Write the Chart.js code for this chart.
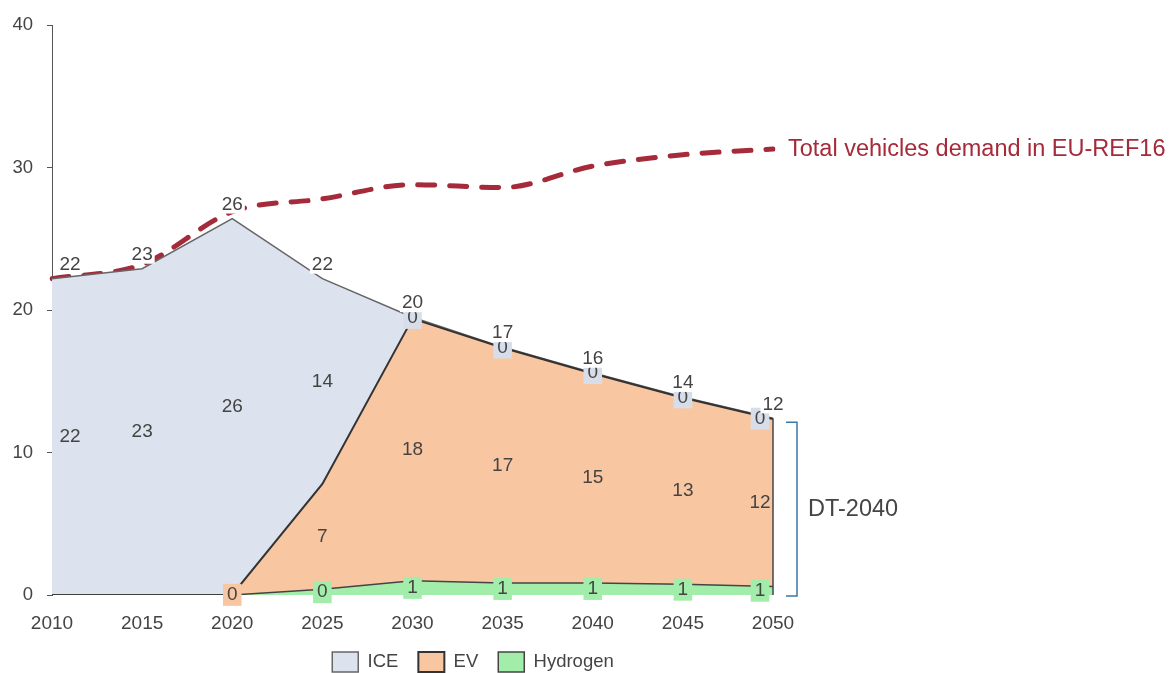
<!DOCTYPE html>
<html>
<head>
<meta charset="utf-8">
<script src="https://cdn.jsdelivr.net/npm/chart.js@4.4.1/dist/chart.umd.min.js"></script>
<style>
  html, body { margin: 0; padding: 0; overflow: hidden; background: #fff; }
  #wrap { width: 1176px; height: 682px; }
</style>
</head>
<body>
<div id="wrap"><canvas id="myChart"></canvas></div>
<script>
// data (million vehicles)
const years = ['2010', '2015', '2020', '2025', '2030', '2035', '2040', '2045', '2050'];
const ice = [22.2, 22.9, 26.4, 14.4, 0.1, 0.05, 0.05, 0.05, 0.05];
const ev = [0, 0, 0.02, 7.4, 18.4, 16.5, 14.7, 13.1, 11.75];
const hydrogen = [0, 0, 0, 0.4, 1.0, 0.85, 0.85, 0.75, 0.6];
const totalDemand = [22.2, 23.2, 26.9, 27.8, 28.8, 28.6, 30.1, 30.9, 31.3];
const yTicks = [0, 10, 20, 30, 40];

const FONT = '"Liberation Sans", Arial, sans-serif';
const TXT = '#444';

const labelPlugin = {
  id: 'areaLabels',
  afterDatasetsDraw(chart) {
    const ctx = chart.ctx;
    const xs = chart.scales.x, ys = chart.scales.y;
    const stacked = [0, 1, 2];
    const last = years.length - 1;
    ctx.save();
    ctx.textAlign = 'center';
    ctx.textBaseline = 'middle';

    // right edge of the stacked area
    let lastTop = 0;
    stacked.forEach(d => lastTop += chart.data.datasets[d].data[last]);
    const xr = xs.getPixelForValue(last);
    ctx.strokeStyle = '#444';
    ctx.lineWidth = 1.5;
    ctx.beginPath();
    ctx.moveTo(xr, ys.getPixelForValue(0));
    ctx.lineTo(xr, ys.getPixelForValue(lastTop));
    ctx.stroke();

    ctx.font = '19px ' + FONT;
    years.forEach((yr, i) => {
      const px = xs.getPixelForValue(i);
      const lx = i === 0 ? px + 18 : (i === last ? px - 13 : px);
      let base = 0;
      stacked.forEach(d => {
        const ds = chart.data.datasets[d];
        const v = ds.data[i];
        if (v > 0) {
          const mid = ys.getPixelForValue(base + v / 2);
          const txt = String(Math.round(v));
          const hpx = ys.getPixelForValue(0) - ys.getPixelForValue(v);
          if (hpx < 18) {
            const w = ctx.measureText(txt).width + 8;
            ctx.fillStyle = ds.labelBox;
            ctx.fillRect(lx - w / 2, mid - 11, w, 22);
          }
          ctx.fillStyle = TXT;
          ctx.fillText(txt, lx, mid);
        }
        base += v;
      });
      // total on top
      const tx = i === 0 ? px + 18 : px;
      const ty = ys.getPixelForValue(base) - 14;
      const txt = String(Math.round(base));
      const w = ctx.measureText(txt).width + 4;
      ctx.fillStyle = '#fff';
      ctx.fillRect(tx - w / 2, ty - 9, w, 18);
      ctx.fillStyle = TXT;
      ctx.fillText(txt, tx, ty);
    });

    // label of the demand line
    const td = chart.data.datasets[3].data;
    ctx.textAlign = 'left';
    ctx.font = '23.5px ' + FONT;
    ctx.fillStyle = '#a52a3a';
    ctx.fillText('Total vehicles demand in EU-REF16', xr + 15, ys.getPixelForValue(td[last]));

    // bracket
    const bTop = ys.getPixelForValue(lastTop) + 4;
    const bBot = ys.getPixelForValue(0) + 1;
    ctx.strokeStyle = '#3a78a8';
    ctx.lineWidth = 1.5;
    ctx.beginPath();
    ctx.moveTo(xr + 13, bTop);
    ctx.lineTo(xr + 24, bTop);
    ctx.lineTo(xr + 24, bBot);
    ctx.lineTo(xr + 13, bBot);
    ctx.stroke();
    ctx.fillStyle = TXT;
    ctx.fillText('DT-2040', xr + 35, (bTop + bBot) / 2);
    ctx.restore();
  }
};

const chart = new Chart(document.getElementById('myChart'), {
  type: 'line',
  data: {
    labels: years,
    datasets: [
      {
        label: 'Hydrogen', data: hydrogen, stack: 'main', fill: 'origin',
        backgroundColor: '#a3edab', labelBox: '#a3edab', borderColor: '#444', borderWidth: 1.5,
        pointRadius: 0, tension: 0
      },
      {
        label: 'EV', data: ev, stack: 'main', fill: '-1',
        backgroundColor: '#f9c6a2', labelBox: '#f9c6a2', borderColor: '#333', borderWidth: 2,
        pointRadius: 0, tension: 0
      },
      {
        label: 'ICE', data: ice, stack: 'main', fill: '-1',
        backgroundColor: '#dde3ee', labelBox: '#d7dee9', borderColor: '#666', borderWidth: 1.5,
        pointRadius: 0, tension: 0
      },
      {
        label: 'Total vehicles demand in EU-REF16', data: totalDemand, stack: 'total', fill: false,
        borderColor: '#a52a3a', borderWidth: 5, borderDash: [17, 15], borderCapStyle: 'round',
        pointRadius: 0, cubicInterpolationMode: 'monotone'
      }
    ]
  },
  options: {
    responsive: true,
    maintainAspectRatio: false,
    animation: false,
    layout: { padding: { left: 0, right: 230, top: 22, bottom: 0 } },
    scales: {
      x: {
        offset: false,
        grid: { display: false, drawTicks: false },
        border: { display: false },
        ticks: { color: TXT, font: { size: 19, family: FONT }, padding: 17, maxRotation: 0 },
        afterFit: s => { s.height = 37; }
      },
      y: {
        stacked: true,
        min: 0, max: 40,
        afterBuildTicks: s => { s.ticks = yTicks.map(v => ({ value: v })); },
        grid: { drawOnChartArea: false, drawTicks: true, tickLength: 5, color: '#555' },
        border: { display: true, color: '#555', width: 1 },
        ticks: { color: TXT, font: { size: 18.5, family: FONT }, padding: 14 },
        afterFit: s => { s.width = 52; }
      },
      // empty right-hand spacer keeping room for the annotations
      side: {
        position: 'right',
        display: true,
        grid: { display: false },
        border: { display: false },
        ticks: { display: false },
        afterFit: s => { s.width = 173; }
      }
    },
    plugins: {
      legend: {
        position: 'bottom',
        labels: {
          color: TXT, font: { size: 18.5, family: FONT },
          boxWidth: 26, boxHeight: 20, padding: 20,
          filter: item => item.datasetIndex !== 3,
          sort: (a, b) => b.datasetIndex - a.datasetIndex
        }
      },
      tooltip: { enabled: false }
    }
  },
  plugins: [labelPlugin]
});
</script>
</body>
</html>
